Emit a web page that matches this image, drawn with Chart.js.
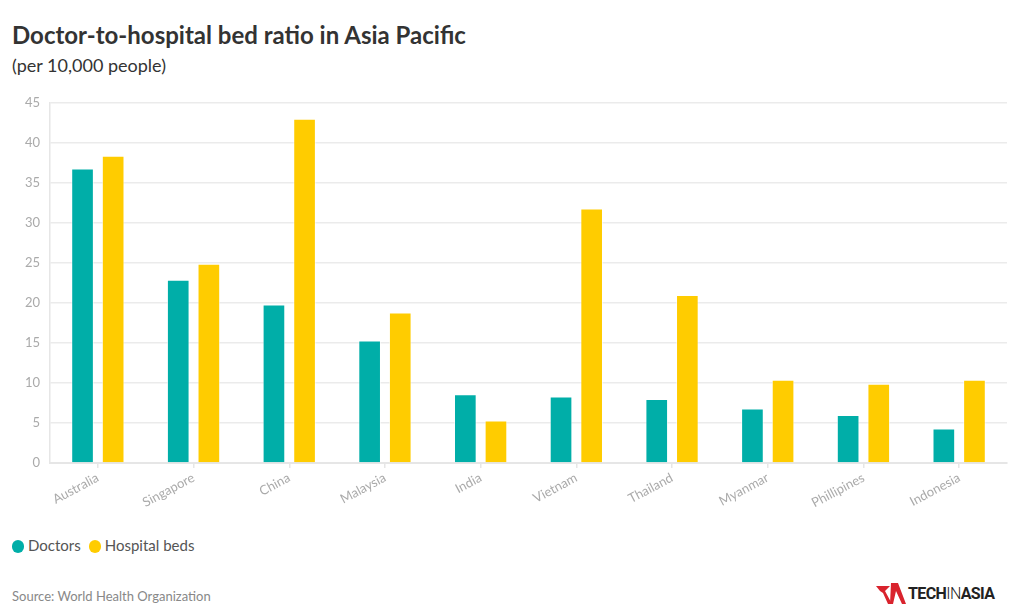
<!DOCTYPE html>
<html>
<head>
<meta charset="utf-8">
<script src="https://cdn.jsdelivr.net/npm/chart.js@4"></script>
<style>
  body { margin: 0; background: #fff; font-family: Lato, "Open Sans", sans-serif; }
  #wrap { position: relative; width: 1024px; height: 605px; overflow: hidden; }
  #title { position: absolute; left: 12px; top: 20px; font-size: 24px; font-weight: bold; color: #333; }
  #subtitle { position: absolute; left: 12px; top: 54px; font-size: 18px; color: #333; }
  #chartBox { position: absolute; left: 0; top: 85px; width: 1024px; height: 440px; }
  #legend { position: absolute; left: 12px; top: 536px; font-size: 15px; color: #555; }
  #legend span.item { margin-right: 8px; }
  #legend i { display: inline-block; width: 12px; height: 13px; border-radius: 6px; vertical-align: -2px; margin-right: 4px; }
  #source { position: absolute; left: 12px; top: 588px; font-size: 13px; color: #888; }
  #logo { position: absolute; left: 876px; top: 583px; font-family: Roboto, sans-serif; font-size: 16px; color: #222; letter-spacing: -0.6px; }
  #logo svg { vertical-align: -5px; margin-right: 2px; }
</style>
</head>
<body>
<div id="wrap">
  <div id="title">Doctor-to-hospital bed ratio in Asia Pacific</div>
  <div id="subtitle">(per 10,000 people)</div>
  <div id="chartBox"><canvas id="chart"></canvas></div>
  <div id="legend"></div>
  <div id="source">Source: World Health Organization</div>
  <div id="logo"><svg width="30" height="21" viewBox="0 0 30 21"><polygon points="0,3 14,3 9,8 16,21 12,21 7,10 4,8" fill="#d9232d"/><polygon points="15,0 22,0 30,21 26,21 20,8 17,21 14,21" fill="#d9232d"/></svg><b>TECH</b><span style="font-weight:300">IN</span><b>ASIA</b></div>
</div>
<script>
const countries = ['Australia', 'Singapore', 'China', 'Malaysia', 'India', 'Vietnam', 'Thailand', 'Myanmar', 'Phillipines', 'Indonesia'];
const doctors = [36.8, 22.9, 19.8, 15.3, 8.6, 8.3, 8.0, 6.8, 6.0, 4.3];
const hospitalBeds = [38.4, 24.9, 43.0, 18.8, 5.3, 31.8, 21.0, 10.4, 9.9, 10.4];
const seriesNames = ['Doctors', 'Hospital beds'];
const seriesColors = ['#00aea8', '#ffcc00'];
const yTicks = [0, 5, 10, 15, 20, 25, 30, 35, 40, 45];

const legend = document.getElementById('legend');
seriesNames.forEach(function(name, i) {
    const item = document.createElement('span');
    item.className = 'item';
    item.innerHTML = '<i style="background:' + seriesColors[i] + '"></i>' + name;
    legend.appendChild(item);
});

const ctx = document.getElementById('chart').getContext('2d');
new Chart(ctx, {
    type: 'bar',
    data: {
        labels: countries,
        datasets: [doctors, hospitalBeds].map(function(values, i) {
            return {
                label: seriesNames[i],
                data: values,
                backgroundColor: seriesColors[i],
                borderColor: 'rgba(255,255,255,0.6)',
                borderWidth: 1,
                categoryPercentage: 0.64,
                barPercentage: 0.74
            };
        })
    },
    options: {
        responsive: true,
        maintainAspectRatio: false,
        animation: false,
        layout: { padding: { top: 8, right: 17, left: 0, bottom: 0 } },
        plugins: {
            legend: { display: false },
            tooltip: { enabled: false }
        },
        scales: {
            x: {
                grid: { offset: false, drawOnChartArea: false, drawTicks: true, tickLength: 5, color: '#e6e6e6', lineWidth: 1.5 },
                border: { color: '#e6e6e6', width: 2 },
                ticks: {
                    color: '#aaa',
                    font: { family: 'Lato', size: 13 },
                    minRotation: 28,
                    maxRotation: 28,
                    padding: 2
                },
                afterFit: function(scale) { scale.height = 62; }
            },
            y: {
                min: 0,
                max: 45,
                afterBuildTicks: function(scale) {
                    scale.ticks = yTicks.map(function(v) { return { value: v }; });
                },
                grid: { color: '#ebebeb', lineWidth: 1.5, drawTicks: false },
                border: { color: '#e6e6e6', width: 1.5 },
                ticks: {
                    color: '#aaa',
                    font: { family: 'Lato', size: 13 },
                    padding: 10
                },
                afterFit: function(scale) { scale.width = 50; }
            }
        }
    }
});
</script>
</body>
</html>
